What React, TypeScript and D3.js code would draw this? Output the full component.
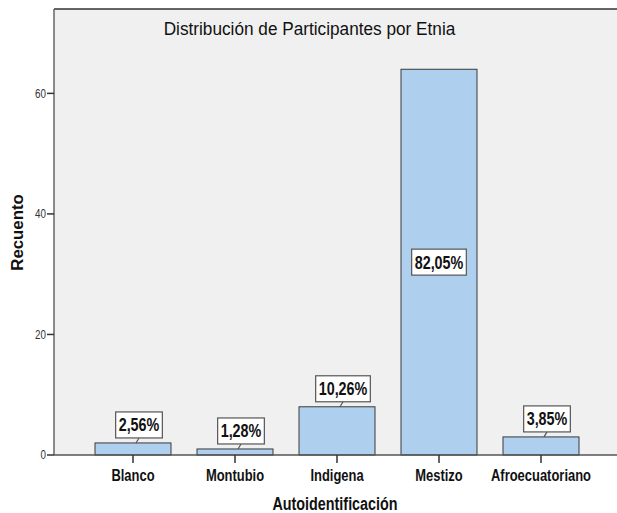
import React, { useEffect, useRef } from "react";
import * as d3 from "d3";

const categories = ["Blanco", "Montubio", "Indigena", "Mestizo", "Afroecuatoriano"];
const counts = [2, 1, 8, 64, 3];
const percentLabels = ["2,56%", "1,28%", "10,26%", "82,05%", "3,85%"];
const yTicks = [0, 20, 40, 60];
const yMax = 74;

const W = 617;
const H = 513;
const SANS = "'Liberation Sans', Arial, sans-serif";
const NARROW_SCALE = 0.82;

export default function App() {
  const ref = useRef<SVGSVGElement | null>(null);

  useEffect(() => {
    const svg = d3.select(ref.current);
    svg.selectAll("*").remove();

    const left = 54, right = 617, top = 9, bottom = 455;

    const x = d3.scaleBand<string>().domain(categories).range([82, 592]).paddingInner(0.255).paddingOuter(0.1275);
    const y = d3.scaleLinear().domain([0, yMax]).range([bottom, top]);

    const ntext = (parent: any, px: number, py: number, size: number, bold: boolean, anchor: string, str: string, fill = "#111", sx = NARROW_SCALE) =>
      parent.append("text")
        .attr("transform", `translate(${px},${py}) scale(${sx},1)`)
        .attr("text-anchor", anchor)
        .attr("font-family", SANS)
        .attr("font-weight", bold ? "bold" : "normal")
        .attr("font-size", size)
        .attr("fill", fill)
        .text(str);

    svg.append("rect").attr("x", 0).attr("y", 0).attr("width", W).attr("height", H).attr("fill", "#ffffff");
    svg.append("rect").attr("x", left).attr("y", top).attr("width", right - left).attr("height", bottom - top).attr("fill", "#f0f0f0");

    svg.append("line").attr("x1", left).attr("x2", right).attr("y1", top).attr("y2", top).attr("stroke", "#333").attr("stroke-width", 1.5);

    ntext(svg, 309.5, 34.5, 18.5, false, "middle", "Distribución de Participantes por Etnia", "#111", 0.93);

    const data = categories.map((c, i) => ({ c, v: counts[i], p: percentLabels[i] }));
    svg.append("g").selectAll("rect").data(data).join("rect")
      .attr("x", d => x(d.c)!)
      .attr("y", d => y(d.v))
      .attr("width", x.bandwidth())
      .attr("height", d => bottom - y(d.v))
      .attr("fill", "#aecfee")
      .attr("stroke", "#3a3a3a")
      .attr("stroke-width", 1);

    svg.append("line").attr("x1", left).attr("x2", left).attr("y1", top).attr("y2", bottom).attr("stroke", "#666").attr("stroke-width", 1.5);
    const yg = svg.append("g");
    yTicks.forEach(t => {
      yg.append("line").attr("x1", 47).attr("x2", left).attr("y1", y(t)).attr("y2", y(t)).attr("stroke", "#333").attr("stroke-width", 1.5);
      ntext(yg, 46, y(t) + 4.3, 12, false, "end", String(t), "#333");
    });

    svg.append("line").attr("x1", left).attr("x2", right).attr("y1", bottom).attr("y2", bottom).attr("stroke", "#555").attr("stroke-width", 1.5);
    const xg = svg.append("g");
    categories.forEach(c => {
      const cx = x(c)! + x.bandwidth() / 2;
      xg.append("line").attr("x1", cx).attr("x2", cx).attr("y1", bottom).attr("y2", bottom + 8).attr("stroke", "#333").attr("stroke-width", 1.5);
      ntext(xg, cx, 481, 15.8, true, "middle", c);
    });

    ntext(svg, 335, 510, 17.5, true, "middle", "Autoidentificación");
    svg.append("text").attr("transform", "translate(23,232.5) rotate(-90) scale(1.05,1)").attr("text-anchor", "middle")
      .attr("font-family", SANS).attr("font-weight", "bold").attr("font-size", 16).attr("fill", "#111")
      .text("Recuento");

    const lg = svg.append("g");
    data.forEach((d, i) => {
      const cx = x(d.c)! + x.bandwidth() / 2;
      const inside = i === 3;
      const bh = 26;
      const bcx = inside ? cx : cx + 6;
      const by = inside ? (y(d.v) + bottom) / 2 - bh / 2 : y(d.v) - 5 - bh;
      const g = lg.append("g");
      if (!inside) {
        g.append("line").attr("x1", bcx).attr("y1", by + bh).attr("x2", cx + 3).attr("y2", y(d.v))
          .attr("stroke", "#555").attr("stroke-width", 1.2);
      }
      const rect = g.append("rect");
      const txt = ntext(g, bcx, by + bh / 2 + 6.5, 17.5, true, "middle", d.p);
      const tw = (txt.node() as SVGTextElement).getComputedTextLength() * NARROW_SCALE;
      const bw = tw + 6;
      rect.attr("x", bcx - bw / 2).attr("y", by).attr("width", bw).attr("height", bh)
        .attr("fill", "#ffffff").attr("stroke", "#555").attr("stroke-width", 1.2);
    });
  }, []);

  return (
    <svg ref={ref} width={W} height={H} style={{ position: "absolute", left: 0, top: 0, display: "block" }} />
  );
}
